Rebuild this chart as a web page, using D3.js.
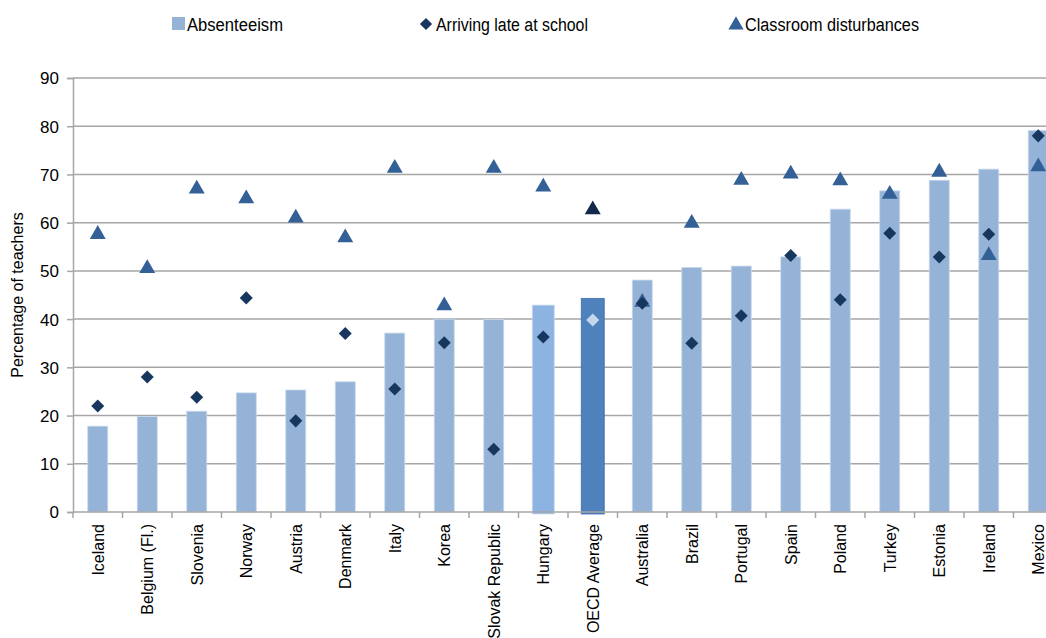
<!DOCTYPE html>
<html>
<head>
<meta charset="utf-8">
<script src="https://cdn.jsdelivr.net/npm/d3@7"></script>
<style>
body { margin: 0; background: #fff; }
text { font-family: "Liberation Sans Narrow", "Arial Narrow", "Liberation Sans", Arial, sans-serif; fill: #000; }
</style>
</head>
<body>
<svg class="chart"></svg>
<script>
let width = 1046,
  height = 638;

// data
let countries = ["Iceland", "Belgium (Fl.)", "Slovenia", "Norway", "Austria", "Denmark", "Italy", "Korea",
  "Slovak Republic", "Hungary", "OECD Average", "Australia", "Brazil", "Portugal", "Spain", "Poland",
  "Turkey", "Estonia", "Ireland", "Mexico"];
let absenteeism = [17.8, 19.8, 20.9, 24.7, 25.3, 27.0, 37.1, 40.0, 39.9, 42.9, 44.3, 48.1, 50.7, 51.0,
  52.9, 62.8, 66.6, 68.8, 71.1, 79.1];
let arrivingLate = [22.0, 28.0, 23.8, 44.4, 18.9, 37.0, 25.5, 35.1, 13.0, 36.3, 39.8, 43.3, 35.0, 40.7,
  53.2, 44.0, 57.8, 52.9, 57.6, 78.0];
let disturbances = [57.8, 50.7, 67.2, 65.2, 61.2, 57.1, 71.5, 43.0, 71.5, 67.6, 62.9, 43.7, 60.1, 69.0,
  70.3, 68.9, 66.1, 70.7, 53.4, 71.8];
let yTicks = [0, 10, 20, 30, 40, 50, 60, 70, 80, 90];

let plotLeft = 73, plotTop = 78, plotBottom = 512;

let svg = d3.select(".chart").attr("width", width).attr("height", height);

let x = d3.scaleBand().domain(countries).range([plotLeft, plotLeft + 990]);
let y = d3.scaleLinear().domain([0, 90]).range([plotBottom, plotTop]);

// gridlines
svg.append("g")
  .selectAll("line")
  .data(yTicks.slice(1))
  .enter()
  .append("line")
  .attr("x1", plotLeft).attr("x2", width)
  .attr("y1", (d) => y(d)).attr("y2", (d) => y(d))
  .attr("stroke", "#a6a6a6")
  .attr("stroke-width", 1.5);

// y axis
let yAxis = svg.append("g")
  .attr("transform", `translate(${plotLeft},0)`)
  .call(d3.axisLeft(y).tickValues(yTicks).tickSize(6).tickPadding(8));
yAxis.select(".domain").attr("stroke", "#a6a6a6").attr("stroke-width", 1.5);
yAxis.selectAll(".tick line").attr("stroke", "#a6a6a6").attr("stroke-width", 1.5);
yAxis.selectAll("text").style("font-size", "17px").attr("dy", "0.35em");

svg.append("text")
  .attr("transform", `translate(23,${(plotTop + plotBottom) / 2}) rotate(-90)`)
  .attr("text-anchor", "middle")
  .style("font-size", "16px")
  .text("Percentage of teachers");

// bars
let barColor = (d) => d == "OECD Average" ? "#4f81bd" : d == "Hungary" ? "#8db3e2" : "#95b3d7";
let barWidth = (d) => d == "OECD Average" ? 23 : d == "Hungary" ? 22 : 20;
svg.append("g")
  .selectAll("rect")
  .data(countries)
  .enter()
  .append("rect")
  .attr("x", (d) => x(d) + x.bandwidth() / 2 - barWidth(d) / 2)
  .attr("width", barWidth)
  .attr("y", (d, i) => y(absenteeism[i]))
  .attr("height", (d, i) => plotBottom - y(absenteeism[i]) + (d == "OECD Average" || d == "Hungary" ? 2 : 0))
  .attr("fill", barColor)
  .attr("stroke", (d) => d == "OECD Average" ? "#3d6fad" : "#c9d9ec")
  .attr("stroke-width", 0.8);

// x axis
let xAxis = svg.append("g").attr("transform", `translate(0,${plotBottom})`);
xAxis.append("line")
  .attr("x1", plotLeft).attr("x2", width)
  .attr("stroke", "#a6a6a6").attr("stroke-width", 1.5);
xAxis.selectAll(".tk")
  .data(countries)
  .enter()
  .append("line")
  .attr("x1", (d) => x(d)).attr("x2", (d) => x(d))
  .attr("y1", 0).attr("y2", 6)
  .attr("stroke", "#a6a6a6").attr("stroke-width", 1.5);
xAxis.selectAll("text")
  .data(countries)
  .enter()
  .append("text")
  .attr("transform", (d) => `translate(${x(d) + x.bandwidth() / 2 + 6},12) rotate(-90)`)
  .attr("text-anchor", "end")
  .style("font-size", "16px")
  .text((d) => d);

// triangles
let tri = d3.symbol().type(d3.symbolTriangle).size(110);
svg.append("g")
  .selectAll("path")
  .data(countries)
  .enter()
  .append("path")
  .attr("d", tri)
  .attr("transform", (d, i) => `translate(${x(d) + x.bandwidth() / 2},${y(disturbances[i]) + 1})`)
  .attr("fill", (d) => d == "OECD Average" ? "#13284a" : "#336096");

// diamonds
let dia = d3.symbol().type(d3.symbolSquare).size(85);
svg.append("g")
  .selectAll("path")
  .data(countries)
  .enter()
  .append("path")
  .attr("d", dia)
  .attr("transform", (d, i) => `translate(${x(d) + x.bandwidth() / 2},${y(arrivingLate[i])}) rotate(45)`)
  .attr("fill", (d) => d == "OECD Average" ? "#c6d8ee" : "#17375e");

// legend (reference font is a bit condensed, so squeeze the text)
let legend = svg.append("g").style("font-size", "18px");
legend.append("rect").attr("x", 172).attr("y", 17).attr("width", 13).attr("height", 13).attr("fill", "#95b3d7");
legend.append("text").attr("x", 187).attr("y", 31).attr("textLength", 96).attr("lengthAdjust", "spacingAndGlyphs").text("Absenteeism");
legend.append("path").attr("d", d3.symbol().type(d3.symbolSquare).size(75))
  .attr("transform", "translate(426,24) rotate(45)").attr("fill", "#17375e");
legend.append("text").attr("x", 436).attr("y", 31).attr("textLength", 152).attr("lengthAdjust", "spacingAndGlyphs").text("Arriving late at school");
legend.append("path").attr("d", d3.symbol().type(d3.symbolTriangle).size(100))
  .attr("transform", "translate(736,25)").attr("fill", "#336096");
legend.append("text").attr("x", 745).attr("y", 31).attr("textLength", 174).attr("lengthAdjust", "spacingAndGlyphs").text("Classroom disturbances");
</script>
</body>
</html>
